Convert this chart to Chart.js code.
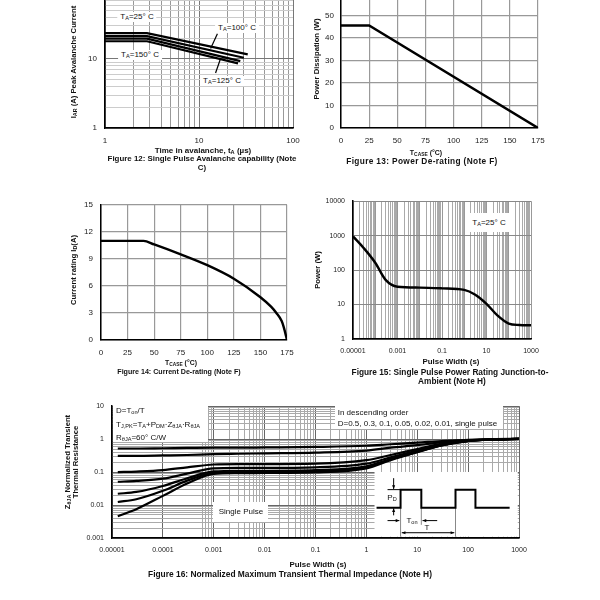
<!DOCTYPE html>
<html>
<head>
<meta charset="utf-8">
<script src="https://cdn.jsdelivr.net/npm/chart.js@4"></script>
<style>
body{margin:0;background:#fff;width:600px;height:600px;overflow:hidden;position:relative;font-family:'Liberation Sans',Arial,sans-serif;}
canvas{position:absolute;}
.t{position:absolute;white-space:nowrap;font-size:8px;color:#111;transform:translate(-50%,-50%);line-height:1;}
.l{transform:translate(0,-50%);}
.b{font-weight:bold;font-size:7.7px;}
.r{transform:translate(-50%,-50%) rotate(-90deg);}
.w{background:#fff;padding:1px 3px;}
sub{font-size:0.7em;vertical-align:-0.25em;line-height:0;}
.box{position:absolute;background:#fff;}
</style>
</head>
<body>
<script>
// Figure 12: single pulse avalanche capability
const avalTime25 = [1, 2.8, 33];
const avalCur25 = [23.6, 23.6, 11.6];
const avalTime100 = [1, 2.8, 30];
const avalCur100 = [21.3, 21.3, 10.4];
const avalTime125 = [1, 2.8, 27.5];
const avalCur125 = [19.6, 19.6, 9.3];
const avalTime150 = [1, 2.8, 26];
const avalCur150 = [18, 18, 8.6];
const avalXTicks = [1, 10, 100];
const avalXLabels = ['1', '10', '100'];
const avalYTicks = [1, 10, 100];
const avalYLabels = ['1', '10', '100'];

// Figure 13: power de-rating
const pdTemp = [0, 25, 175];
const pdPower = [45.5, 45.5, 0];

// Figure 14: current de-rating
const idTemp = [0, 40, 50, 75, 100, 125, 150, 160, 165, 170, 172, 175];
const idCur = [11, 11, 10.6, 9.5, 8.3, 6.8, 4.75, 3.7, 3.0, 2.1, 1.4, 0];

// Figure 15: single pulse power rating
const spWidth = [1e-5, 3e-5, 1e-4, 3e-4, 1e-3, 0.01, 0.1, 1, 3, 10, 30, 100, 300, 1000];
const spPower = [950, 440, 164, 51, 33, 31, 29.5, 26.6, 19.5, 10.5, 4.9, 2.8, 2.55, 2.5];
const spXTicks = [1e-5, 1e-3, 0.1, 10, 1000];
const spXLabels = ['0.00001', '0.001', '0.1', '10', '1000'];
const spYTicks = [1, 10, 100, 1000, 10000];
const spYLabels = ['1', '10', '100', '1000', '10000'];

// Figure 16: normalized transient thermal impedance
const ztWidth = [1.3e-5, 3e-5, 1e-4, 3e-4, 1e-3, 3e-3, 0.01, 0.1, 1, 3, 10, 30, 100, 300, 1000];
const ztD05 = [0.52, 0.52, 0.53, 0.54, 0.55, 0.55, 0.56, 0.58, 0.63, 0.7, 0.78, 0.88, 0.95, 1.0, 1.02];
const ztD03 = [0.31, 0.31, 0.32, 0.33, 0.35, 0.36, 0.37, 0.39, 0.45, 0.55, 0.66, 0.8, 0.93, 0.99, 1.02];
const ztD01 = [0.1, 0.104, 0.115, 0.14, 0.17, 0.175, 0.175, 0.18, 0.23, 0.33, 0.5, 0.72, 0.9, 0.98, 1.02];
const ztD005 = [0.051, 0.054, 0.063, 0.09, 0.13, 0.135, 0.135, 0.14, 0.18, 0.28, 0.45, 0.68, 0.89, 0.98, 1.02];
const ztD002 = [0.022, 0.025, 0.038, 0.065, 0.105, 0.11, 0.11, 0.115, 0.15, 0.25, 0.42, 0.66, 0.88, 0.97, 1.02];
const ztD001 = [0.0124, 0.015, 0.027, 0.055, 0.095, 0.1, 0.1, 0.105, 0.14, 0.24, 0.41, 0.65, 0.88, 0.97, 1.02];
const ztSingle = [0.0046, 0.0075, 0.019, 0.045, 0.088, 0.093, 0.094, 0.098, 0.13, 0.23, 0.4, 0.64, 0.87, 0.97, 1.02];
const ztXTicks = [1e-5, 1e-4, 1e-3, 0.01, 0.1, 1, 10, 100, 1000];
const ztXLabels = ['0.00001', '0.0001', '0.001', '0.01', '0.1', '1', '10', '100', '1000'];
const ztYTicks = [0.001, 0.01, 0.1, 1, 10];
const ztYLabels = ['0.001', '0.01', '0.1', '1', '10'];

Chart.defaults.font.family = "'Liberation Sans', Arial, sans-serif";
Chart.defaults.font.size = 8;
Chart.defaults.color = '#222';

function pts(xs, ys) { return xs.map((x, i) => ({ x: x, y: ys[i] })); }

function logGrid(min, max) {
    const out = [];
    for (let e = Math.floor(Math.log10(min)); e <= Math.ceil(Math.log10(max)); e++) {
        for (let k = 1; k <= 9; k++) {
            const v = k * Math.pow(10, e);
            if (v >= min * 0.999 && v <= max * 1.001) out.push(v);
        }
    }
    return out;
}
function isDecade(v) { const l = Math.log10(v); return Math.abs(l - Math.round(l)) < 1e-6; }
function labelFor(v, ticks, labels) {
    for (let i = 0; i < ticks.length; i++) {
        if (Math.abs(Math.log10(v) - Math.log10(ticks[i])) < 1e-6) return labels[i];
    }
    return '';
}
// minorFrom: minor grid lines only drawn from this value upward
function logAxis(min, max, ticks, labels, major, minor, size, pad, minorFrom) {
    const from = minorFrom || min;
    return {
        type: 'logarithmic', min: min, max: max,
        afterBuildTicks: s => { s.ticks = logGrid(min, max).map(v => ({ value: v })); },
        ticks: { autoSkip: false, maxRotation: 0, padding: pad, font: { size: size }, callback: v => labelFor(v, ticks, labels) },
        grid: {
            drawTicks: false, lineWidth: 1,
            color: c => {
                if (!c.tick) return minor;
                if (isDecade(c.tick.value)) return major;
                return c.tick.value < from * 0.999 ? 'rgba(0,0,0,0)' : minor;
            }
        },
        border: { color: '#000', width: 1.5 }
    };
}
function linAxis(min, max, step, pad) {
    return {
        type: 'linear', min: min, max: max,
        ticks: { stepSize: step, padding: pad, maxRotation: 0, font: { size: 8 } },
        grid: { drawTicks: false, color: '#999', lineWidth: 1.2 },
        border: { color: '#000', width: 1.5 }
    };
}
function line(data, width, smooth) {
    return {
        data: data, borderColor: '#000', borderWidth: width, pointRadius: 0, fill: false,
        cubicInterpolationMode: smooth ? 'monotone' : 'default', tension: 0
    };
}
function make(box, datasets, xAxis, yAxis, plugins) {
    const cv = document.createElement('canvas');
    cv.width = box[2] + 65;
    cv.height = box[3] + 32;
    cv.style.left = (box[0] - 45) + 'px';
    cv.style.top = (box[1] - 10) + 'px';
    document.body.appendChild(cv);
    xAxis.position = 'bottom';
    yAxis.position = 'left';
    xAxis.afterFit = s => { s.height = 22; };
    yAxis.afterFit = s => { s.width = 45; };
    return new Chart(cv, {
        type: 'line',
        data: { datasets: datasets },
        options: {
            responsive: false,
            animation: false,
            layout: { padding: { top: 10, right: 20, left: 0, bottom: 0 } },
            plugins: { legend: { display: false }, tooltip: { enabled: false } },
            scales: { x: xAxis, y: yAxis }
        },
        plugins: plugins || []
    });
}

// leader lines for the temperature labels in figure 12
const leaderPlugin = {
    id: 'leaders',
    afterDatasetsDraw(chart) {
        const { ctx, scales } = chart;
        const leaders = [[15.7, 23.1, 13.3, 14.1], [15.0, 6.24, 17.0, 10.2]];
        ctx.save();
        ctx.strokeStyle = '#000';
        ctx.lineWidth = 1.2;
        leaders.forEach(l => {
            ctx.beginPath();
            ctx.moveTo(scales.x.getPixelForValue(l[0]), scales.y.getPixelForValue(l[1]));
            ctx.lineTo(scales.x.getPixelForValue(l[2]), scales.y.getPixelForValue(l[3]));
            ctx.stroke();
        });
        ctx.restore();
    }
};

function arrow(ctx, x1, y1, x2, y2) {
    const a = Math.atan2(y2 - y1, x2 - x1);
    ctx.beginPath(); ctx.moveTo(x1, y1); ctx.lineTo(x2, y2); ctx.stroke();
    ctx.beginPath();
    ctx.moveTo(x2, y2);
    ctx.lineTo(x2 - 4 * Math.cos(a - 0.4), y2 - 4 * Math.sin(a - 0.4));
    ctx.lineTo(x2 - 4 * Math.cos(a + 0.4), y2 - 4 * Math.sin(a + 0.4));
    ctx.closePath(); ctx.fill();
}

// duty cycle pulse sketch in figure 16 (placed by fractions of the plot area)
const insetPlugin = {
    id: 'inset',
    beforeDatasetsDraw(chart) {
        const { ctx, chartArea: a } = chart;
        const X = f => a.left + f * (a.right - a.left);
        const Y = f => a.top + f * (a.bottom - a.top);
        ctx.save();
        ctx.fillStyle = '#fff';
        ctx.fillRect(X(0.645), Y(0.499), X(0.997) - X(0.645), Y(0.99) - Y(0.499));
        // thin guide lines
        ctx.strokeStyle = '#888'; ctx.lineWidth = 1;
        ctx.beginPath();
        ctx.moveTo(X(0.709), Y(0.77)); ctx.lineTo(X(0.709), Y(0.99));
        ctx.moveTo(X(0.844), Y(0.77)); ctx.lineTo(X(0.844), Y(0.99));
        ctx.moveTo(X(0.760), Y(0.77)); ctx.lineTo(X(0.760), Y(0.90));
        ctx.stroke();
        // pulse train
        ctx.strokeStyle = '#000'; ctx.lineWidth = 2;
        ctx.beginPath();
        ctx.moveTo(X(0.650), Y(0.77));
        ctx.lineTo(X(0.709), Y(0.77)); ctx.lineTo(X(0.709), Y(0.633));
        ctx.lineTo(X(0.760), Y(0.633)); ctx.lineTo(X(0.760), Y(0.77));
        ctx.lineTo(X(0.844), Y(0.77)); ctx.lineTo(X(0.844), Y(0.633));
        ctx.lineTo(X(0.893), Y(0.633)); ctx.lineTo(X(0.893), Y(0.77));
        ctx.lineTo(X(0.977), Y(0.77));
        ctx.stroke();
        ctx.lineWidth = 1;
        ctx.beginPath(); ctx.moveTo(X(0.677), Y(0.633)); ctx.lineTo(X(0.709), Y(0.633)); ctx.stroke();
        ctx.fillStyle = '#000';
        arrow(ctx, X(0.692), Y(0.546), X(0.692), Y(0.628));
        arrow(ctx, X(0.692), Y(0.828), X(0.692), Y(0.775));
        arrow(ctx, X(0.677), Y(0.868), X(0.706), Y(0.868));
        arrow(ctx, X(0.799), Y(0.868), X(0.763), Y(0.868));
        arrow(ctx, X(0.776), Y(0.960), X(0.712), Y(0.960));
        arrow(ctx, X(0.776), Y(0.960), X(0.841), Y(0.960));
        ctx.restore();
    }
};

make([105, -13, 188, 141], [
    line(pts(avalTime25, avalCur25), 2.2, false),
    line(pts(avalTime100, avalCur100), 2.2, false),
    line(pts(avalTime125, avalCur125), 2.2, false),
    line(pts(avalTime150, avalCur150), 2.2, false)
], logAxis(1, 100, avalXTicks, avalXLabels, '#777', '#999', 8, 8),
   logAxis(1, 100, avalYTicks, avalYLabels, '#777', '#ccc', 8, 8), [leaderPlugin]);

make([341, -9, 197, 137], [line(pts(pdTemp, pdPower), 2.4, false)],
    linAxis(0, 175, 25, 8), linAxis(0, 60, 10, 7));

make([101, 202, 186, 138], [line(pts(idTemp, idCur), 2.4, true)],
    linAxis(0, 175, 25, 8), linAxis(0, 15, 3, 8));

make([353, 199, 178, 140], [line(pts(spWidth, spPower), 2.4, true)],
    logAxis(1e-5, 1000, spXTicks, spXLabels, '#999', '#aaa', 7, 8),
    logAxis(1, 10000, spYTicks, spYLabels, '#888', 'rgba(0,0,0,0)', 7, 8));

make([112, 404, 407, 134], [
    line(pts(ztWidth, ztD05), 2.2, true),
    line(pts(ztWidth, ztD03), 2.2, true),
    line(pts(ztWidth, ztD01), 2.2, true),
    line(pts(ztWidth, ztD005), 2.2, true),
    line(pts(ztWidth, ztD002), 2.2, true),
    line(pts(ztWidth, ztD001), 2.2, true),
    line(pts(ztWidth, ztSingle), 2.2, true)
], logAxis(1e-5, 1000, ztXTicks, ztXLabels, '#666', '#aaa', 7, 8, 6e-4),
   logAxis(0.001, 10, ztYTicks, ztYLabels, '#666', '#aaa', 7, 8), [insetPlugin]);

// white label boxes
[[113, 405, 95, 37], [335, 405, 168, 24], [213, 502, 55, 20], [468, 213, 42, 19]].forEach(b => {
    const d = document.createElement('div');
    d.className = 'box';
    d.style.left = b[0] + 'px'; d.style.top = b[1] + 'px';
    d.style.width = b[2] + 'px'; d.style.height = b[3] + 'px';
    document.body.appendChild(d);
});

// [x, y, html, classes, font size, letter spacing]
const texts = [
    [74, 62, 'I<sub>AR</sub> (A) Peak Avalanche Current', 'b r'],
    [203, 150.5, 'Time in avalanche, t<sub>A</sub> (µs)', 'b', 8],
    [202, 159.3, 'Figure 12: Single Pulse Avalanche capability (Note', 'b', 7.9],
    [202, 167.5, 'C)', 'b', 7.9],
    [137, 16.7, 'T<sub>A</sub>=25° C', 'w'],
    [237, 27.7, 'T<sub>A</sub>=100° C', 'w'],
    [140, 55, 'T<sub>A</sub>=150° C', 'w'],
    [222, 80.7, 'T<sub>A</sub>=125° C', 'w'],
    [317, 59, 'Power Dissipation (W)', 'b r'],
    [426, 151.7, 'T<sub>CASE</sub> (°C)', 'b', 7],
    [422, 161, 'Figure 13: Power De-rating (Note F)', 'b', 8.3, 0.35],
    [74, 270, 'Current rating I<sub>D</sub>(A)', 'b r'],
    [181, 363, 'T<sub>CASE</sub> (°C)', 'b', 6.9],
    [179, 372.7, 'Figure 14: Current De-rating (Note F)', 'b', 7.1],
    [318, 270, 'Power (W)', 'b r'],
    [451, 362.3, 'Pulse Width (s)', 'b', 7.9],
    [450, 371.7, 'Figure 15: Single Pulse Power Rating Junction-to-', 'b', 8.3],
    [452, 381, 'Ambient (Note H)', 'b', 8.3],
    [489, 222.5, 'T<sub>A</sub>=25° C', ''],
    [67.5, 462, 'Z<sub>θJA</sub> Normalized Transient', 'b r'],
    [75.5, 462, 'Thermal Resistance', 'b r'],
    [318, 565, 'Pulse Width (s)', 'b', 7.9],
    [290, 573.5, 'Figure 16: Normalized Maximum Transient Thermal Impedance (Note H)', 'b', 8.4],
    [116, 411, 'D=T<sub>on</sub>/T', 'l'],
    [116, 424.5, 'T<sub>J,PK</sub>=T<sub>A</sub>+P<sub>DM</sub>·Z<sub>θJA</sub>·R<sub>θJA</sub>', 'l'],
    [116, 438.3, 'R<sub>θJA</sub>=60° C/W', 'l'],
    [337.7, 413.3, 'In descending order', 'l'],
    [337.7, 424, 'D=0.5, 0.3, 0.1, 0.05, 0.02, 0.01, single pulse', 'l'],
    [241, 512, 'Single Pulse', ''],
    [392, 498, 'P<sub>D</sub>', ''],
    [412, 521, 'T<sub>on</sub>', ''],
    [427, 527.5, 'T', '']
];
texts.forEach(t => {
    const d = document.createElement('div');
    d.className = 't ' + t[3];
    d.style.left = t[0] + 'px';
    d.style.top = t[1] + 'px';
    if (t[4]) d.style.fontSize = t[4] + 'px';
    if (t[5]) d.style.letterSpacing = t[5] + 'px';
    d.innerHTML = t[2];
    document.body.appendChild(d);
});
</script>
</body>
</html>
